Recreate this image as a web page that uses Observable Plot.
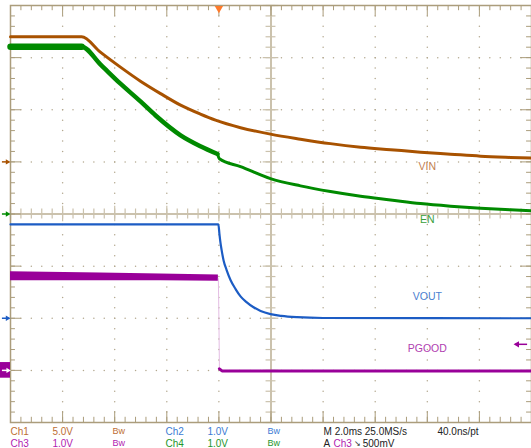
<!DOCTYPE html>
<html>
<head>
<meta charset="utf-8">
<script src="https://cdn.jsdelivr.net/npm/d3@7"></script>
<script src="https://cdn.jsdelivr.net/npm/@observablehq/plot@0.6"></script>
<style>
  html, body { margin: 0; padding: 0; background: #ffffff; }
  #chart svg { display: block; }
</style>
</head>
<body>
<div id="chart"></div>
<script>
// ---------------- DATA (time in ms, voltage in V) ----------------
// Ch1 : VIN
const vinTime  = [-8.00, -5.27, -4.55, -3.78, -3.01, -2.24, -1.47, -0.71, -0.13, 0.83, 1.98, 3.13, 4.28, 5.44, 6.59, 7.74, 8.89, 10.04, 11.19, 12.00];
const vinVolts = [12.0, 12.0, 10.53, 9.09, 7.74, 6.55, 5.44, 4.58, 4.00, 3.28, 2.66, 2.18, 1.75, 1.41, 1.17, 0.93, 0.74, 0.55, 0.43, 0.36];
// Ch4 : EN
const enTime  = [-8.00, -5.27, -4.55, -3.78, -3.01, -2.43, -1.47, -0.71, -0.05, 0.02, 0.83, 1.98, 3.13, 4.28, 5.44, 6.59, 7.74, 8.89, 10.04, 11.19, 12.00];
const enVolts = [3.21, 3.21, 2.87, 2.50, 2.16, 1.89, 1.51, 1.30, 1.15, 1.06, 0.91, 0.68, 0.54, 0.43, 0.34, 0.27, 0.20, 0.15, 0.11, 0.08, 0.06];
// Ch2 : VOUT
const voutTime  = [-8.00, -0.02, 0.02, 0.06, 0.10, 0.18, 0.30, 0.45, 0.64, 0.83, 1.06, 1.33, 1.60, 1.98, 2.40, 3.00, 4.00, 12.00];
const voutVolts = [1.80, 1.80, 1.62, 1.45, 1.32, 1.11, 0.92, 0.73, 0.56, 0.42, 0.31, 0.21, 0.14, 0.08, 0.045, 0.02, 0.005, 0.00];
// Ch3 : PGOOD (noisy high band, then low level)
const pgHighTime = [-8.00, -4.55, -2.24, -0.02];
const pgHighLo   = [1.72, 1.72, 1.72, 1.71];
const pgHighHi   = [1.89, 1.87, 1.85, 1.83];
const pgEdgeTime  = [-0.02, 0.00, 0.02, 0.12];
const pgEdgeVolts = [1.76, 1.00, 0.05, -0.01];
const pgLowTime  = [0.02, 0.12, 12.00];
const pgLowVolts = [0.03, -0.01, -0.01];

// Channel settings / readouts
const chNames     = ["Ch1", "Ch2", "Ch3", "Ch4"];
const chScaleText = ["5.0V", "1.0V", "1.0V", "1.0V"];
const chVoltsDiv  = [5.0, 1.0, 1.0, 1.0];
const traceLabels = ["VIN", "VOUT", "PGOOD", "EN"];
const bwText = "Bw";
const timebaseText = "M 2.0ms 25.0MS/s";
const recordText = "40.0ns/pt";
const trigSource = "Ch3";
const trigLevelText = "500mV";
const trigLevelVolts = 0.5;
const trigTime = 0;

// ---------------- LAYOUT / STYLE ----------------
const chGround = [1, -2, -3, 0];          // ground marker position, divisions
const traceColor = ["#a85200", "#1c5cc4", "#990099", "#008a00"];
const textColor  = ["#bd6e33", "#3b7bd4", "#b01cb0", "#24962c"];
const labelColor = ["#c27f52", "#4a80d0", "#b040b0", "#3aa03a"];
const gridCol = "#b3a88f";
const borderCol = "#ab9d7c";
const centerCol = "#cbc2ad";

const toDiv = (ch) => (v) => chGround[ch] + v / chVoltsDiv[ch];
const zipPts = (ts, vs, ch) => ts.map((t, i) => ({t, y: toDiv(ch)(vs[i])}));

const vin = zipPts(vinTime, vinVolts, 0);
const en = zipPts(enTime, enVolts, 3);
const vout = zipPts(voutTime, voutVolts, 1);
const pgBand = pgHighTime.map((t, i) => ({t, y1: toDiv(2)(pgHighLo[i]), y2: toDiv(2)(pgHighHi[i])}));
const pgEdge = zipPts(pgEdgeTime, pgEdgeVolts, 2);
const pgLow = zipPts(pgLowTime, pgLowVolts, 2);

// graticule positions (time ms / divisions)
const divT = d3.range(0, 11).map(i => -8 + 2 * i);
const divY = d3.range(-4, 5);
const minorT = d3.range(0, 51).map(i => -8 + 0.4 * i);
const minorY = d3.range(0, 41).map(i => -4 + 0.2 * i);
const dots = [];
for (const t of divT) if (t !== -8 && t !== 12 && t !== 2)
  for (const y of minorY) if (y > -4 && y < 4) dots.push({t, y});
for (const y of divY) if (y !== -4 && y !== 4 && y !== 0)
  for (const t of minorT) if (t > -8 && t < 12) dots.push({t, y});

const seg = (arr, key, a, b) => arr.map(v => ({[key]: v, a, b}));

// status readout rows
const rowY1 = -4.17, rowY2 = -4.40;
const colX = [-8.0, -6.39, -4.08, -2.05, -0.44, 1.87];
const status = [
  {t: colX[0], y: rowY1, s: chNames[0], c: textColor[0], f: 10},
  {t: colX[1], y: rowY1, s: chScaleText[0], c: textColor[0], f: 10},
  {t: colX[2], y: rowY1, s: bwText, c: textColor[0], f: 9},
  {t: colX[3], y: rowY1, s: chNames[1], c: textColor[1], f: 10},
  {t: colX[4], y: rowY1, s: chScaleText[1], c: textColor[1], f: 10},
  {t: colX[5], y: rowY1, s: bwText, c: textColor[1], f: 9},
  {t: 4.02, y: rowY1, s: timebaseText, c: "#222", f: 10},
  {t: 8.39, y: rowY1, s: recordText, c: "#222", f: 10},
  {t: colX[0], y: rowY2, s: chNames[2], c: textColor[2], f: 10},
  {t: colX[1], y: rowY2, s: chScaleText[2], c: textColor[2], f: 10},
  {t: colX[2], y: rowY2, s: bwText, c: textColor[2], f: 9},
  {t: colX[3], y: rowY2, s: chNames[3], c: textColor[3], f: 10},
  {t: colX[4], y: rowY2, s: chScaleText[3], c: textColor[3], f: 10},
  {t: colX[5], y: rowY2, s: bwText, c: textColor[3], f: 9},
  {t: 4.02, y: rowY2, s: "A", c: "#222", f: 10},
  {t: 4.40, y: rowY2, s: trigSource, c: textColor[2], f: 10},
  {t: 5.20, y: rowY2, s: "\u2198", c: "#222", f: 8},
  {t: 5.52, y: rowY2, s: trigLevelText, c: "#222", f: 10}
];

const labels = [
  {t: 8.0, y: 0.90, s: traceLabels[0], c: labelColor[0]},
  {t: 8.0, y: -0.10, s: traceLabels[3], c: labelColor[3]},
  {t: 8.0, y: -1.59, s: traceLabels[1], c: labelColor[1]},
  {t: 8.0, y: -2.59, s: traceLabels[2], c: labelColor[2]}
];

const markers = [0, 1, 3].map(ch => ({y: chGround[ch], c: traceColor[ch], a: -8.31, b: -8.05}));
const trigLevelDiv = toDiv(2)(trigLevelVolts);

const chart = Plot.plot({
  width: 531, height: 448,
  marginLeft: 10, marginRight: 0, marginTop: 5, marginBottom: 26,
  x: {domain: [-8, 12], axis: null},
  y: {domain: [-4, 4], axis: null},
  style: {background: "#ffffff", overflow: "visible", fontFamily: "Liberation Sans, Arial, sans-serif"},
  marks: [
    // dotted gridlines
    Plot.dot(dots, {x: "t", y: "y", r: 0.75, fill: gridCol, stroke: null}),
    // center cross
    Plot.ruleX([{x: 2, a: -4, b: 4}], {x: "x", y1: "a", y2: "b", stroke: centerCol, strokeWidth: 2}),
    Plot.ruleY([{y: 0, a: -8, b: 12}], {y: "y", x1: "a", x2: "b", stroke: centerCol, strokeWidth: 2}),
    Plot.ruleY(seg(minorY, "y", 2 - 0.19, 2 + 0.19), {y: "y", x1: "a", x2: "b", stroke: centerCol, strokeWidth: 1.2}),
    Plot.ruleY(seg(divY, "y", 2 - 0.3, 2 + 0.3), {y: "y", x1: "a", x2: "b", stroke: centerCol, strokeWidth: 1.2}),
    Plot.ruleX(seg(minorT, "x", -0.096, 0.096), {x: "x", y1: "a", y2: "b", stroke: centerCol, strokeWidth: 1.2}),
    Plot.ruleX(seg(divT, "x", -0.15, 0.15), {x: "x", y1: "a", y2: "b", stroke: centerCol, strokeWidth: 1.2}),
    // border ticks
    Plot.ruleX(seg(minorT, "x", 4, 3.9), {x: "x", y1: "a", y2: "b", stroke: borderCol}),
    Plot.ruleX(seg(divT, "x", 4, 3.79), {x: "x", y1: "a", y2: "b", stroke: borderCol}),
    Plot.ruleX(seg(minorT, "x", -4, -3.9), {x: "x", y1: "a", y2: "b", stroke: borderCol}),
    Plot.ruleX(seg(divT, "x", -4, -3.79), {x: "x", y1: "a", y2: "b", stroke: borderCol}),
    Plot.ruleY(seg(minorY, "y", -8, -7.81), {y: "y", x1: "a", x2: "b", stroke: borderCol}),
    Plot.ruleY(seg(divY, "y", -8, -7.58), {y: "y", x1: "a", x2: "b", stroke: borderCol}),
    Plot.ruleY(seg(minorY, "y", 12, 11.81), {y: "y", x1: "a", x2: "b", stroke: borderCol}),
    Plot.ruleY(seg(divY, "y", 12, 11.58), {y: "y", x1: "a", x2: "b", stroke: borderCol}),
    Plot.frame({stroke: borderCol, strokeWidth: 1.5}),

    // traces
    Plot.line(vin, {x: "t", y: "y", stroke: traceColor[0], strokeWidth: 3, curve: "monotone-x"}),
    Plot.line(en.slice(0, 2), {x: "t", y: "y", stroke: traceColor[3], strokeWidth: 6.5}),
    Plot.line(en.filter(d => d.t <= -0.05), {x: "t", y: "y", stroke: traceColor[3], strokeWidth: 4.5, curve: "monotone-x"}),
    Plot.line(en.filter(d => d.t >= -0.05), {x: "t", y: "y", stroke: traceColor[3], strokeWidth: 3, curve: "monotone-x"}),
    Plot.line(vout, {x: "t", y: "y", stroke: traceColor[1], strokeWidth: 2.2, curve: "monotone-x"}),
    Plot.areaY(pgBand, {x: "t", y1: "y1", y2: "y2", fill: traceColor[2]}),
    Plot.line(pgEdge, {x: "t", y: "y", stroke: "#e4bde4", strokeWidth: 1}),
    Plot.line(pgLow, {x: "t", y: "y", stroke: traceColor[2], strokeWidth: 3}),

    // trace labels
    Plot.text(labels, {x: "t", y: "y", text: "s", fill: "c", fontSize: 10.5, textAnchor: "middle"}),

    // ground markers on the left
    Plot.ruleY(markers, {y: "y", x1: "a", x2: "b", stroke: "c", strokeWidth: 1.5}),
    Plot.dot(markers, {x: () => -8.12, y: "y", symbol: "triangle2", rotate: 90, r: 2.6, fill: "c", stroke: null}),
    Plot.rect([{g: chGround[2], a: -8.4, b: -8.0}], {x1: "a", x2: "b", y1: d => d.g - 0.15, y2: d => d.g + 0.15, fill: traceColor[2]}),
    Plot.ruleY([{g: chGround[2], a: -8.31, b: -8.08}], {y: "g", x1: "a", x2: "b", stroke: "#fff", strokeWidth: 1.5}),
    Plot.dot([{g: chGround[2], a: -8.1}], {x: "a", y: "g", symbol: "triangle2", rotate: 90, r: 2.4, fill: "#fff", stroke: null}),

    // trigger position marker (top) and trigger level marker (right)
    Plot.dot([{t: trigTime, y: 4}], {x: "t", y: "y", dy: 3, symbol: "triangle2", rotate: 180, r: 4, fill: "#ff7a2a", stroke: null}),
    Plot.ruleY([{y: trigLevelDiv, a: 11.4, b: 11.85}], {y: "y", x1: "a", x2: "b", stroke: traceColor[2], strokeWidth: 1.5}),
    Plot.dot([{y: trigLevelDiv, a: 11.45}], {x: "a", y: "y", symbol: "triangle2", rotate: -90, r: 3, fill: traceColor[2], stroke: null}),

    // status readout
    Plot.text(status, {x: "t", y: "y", text: "s", fill: "c", fontSize: "f", textAnchor: "start", lineAnchor: "middle"})
  ]
});
document.getElementById("chart").appendChild(chart);
</script>
</body>
</html>
